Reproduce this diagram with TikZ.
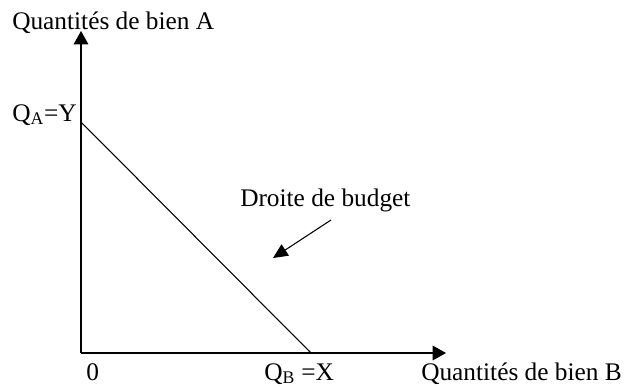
\documentclass[tikz,border=0pt]{standalone}
\usepackage{fontspec}
\setmainfont{Liberation Serif}
\usetikzlibrary{arrows.meta}
\tikzset{
  lbl/.style   = {inner sep=0pt, anchor=base west, font=\fontsize{19}{21}\selectfont},
  axis/.style  = {-{Triangle[length=10pt,width=11pt]}, line width=0.8pt},
  curve/.style = {line width=0.8pt},
  point/.style = {-{Triangle[length=11pt,width=10pt]}, line width=0.8pt},
}
\begin{document}
\begin{tikzpicture}[x=0.75pt,y=-0.75pt]
      \useasboundingbox (0,0) rectangle (624,387);
      \coordinate (o)    at (81,353);
      \coordinate (ytip) at (81,31);
      \coordinate (xtip) at (446,353);
      \coordinate (qa)   at (81,122);
      \coordinate (qb)   at (311,353);
      \coordinate (from) at (331,220);
      \coordinate (to)   at (273,258);

      \node[lbl] (ya)   at (12,29)   {Quantités de bien A};
      \node[lbl] (qal)  at (12,121)  {Q\textsubscript{A}=Y};
      \node[lbl] (zero) at (86,380)  {0};
      \node[lbl] (qbl)  at (264,380) {Q\textsubscript{B} =X};
      \node[lbl] (xb)   at (421,380) {Quantités de bien B};
      \node[lbl] (dro)  at (240,206) {Droite de budget};

      \draw[axis]  (o) -- (ytip);
      \draw[axis]  (o) -- (xtip);
      \draw[curve] (qa) -- (qb);
      \draw[point] (from) -- (to);
    \end{tikzpicture}
\end{document}
